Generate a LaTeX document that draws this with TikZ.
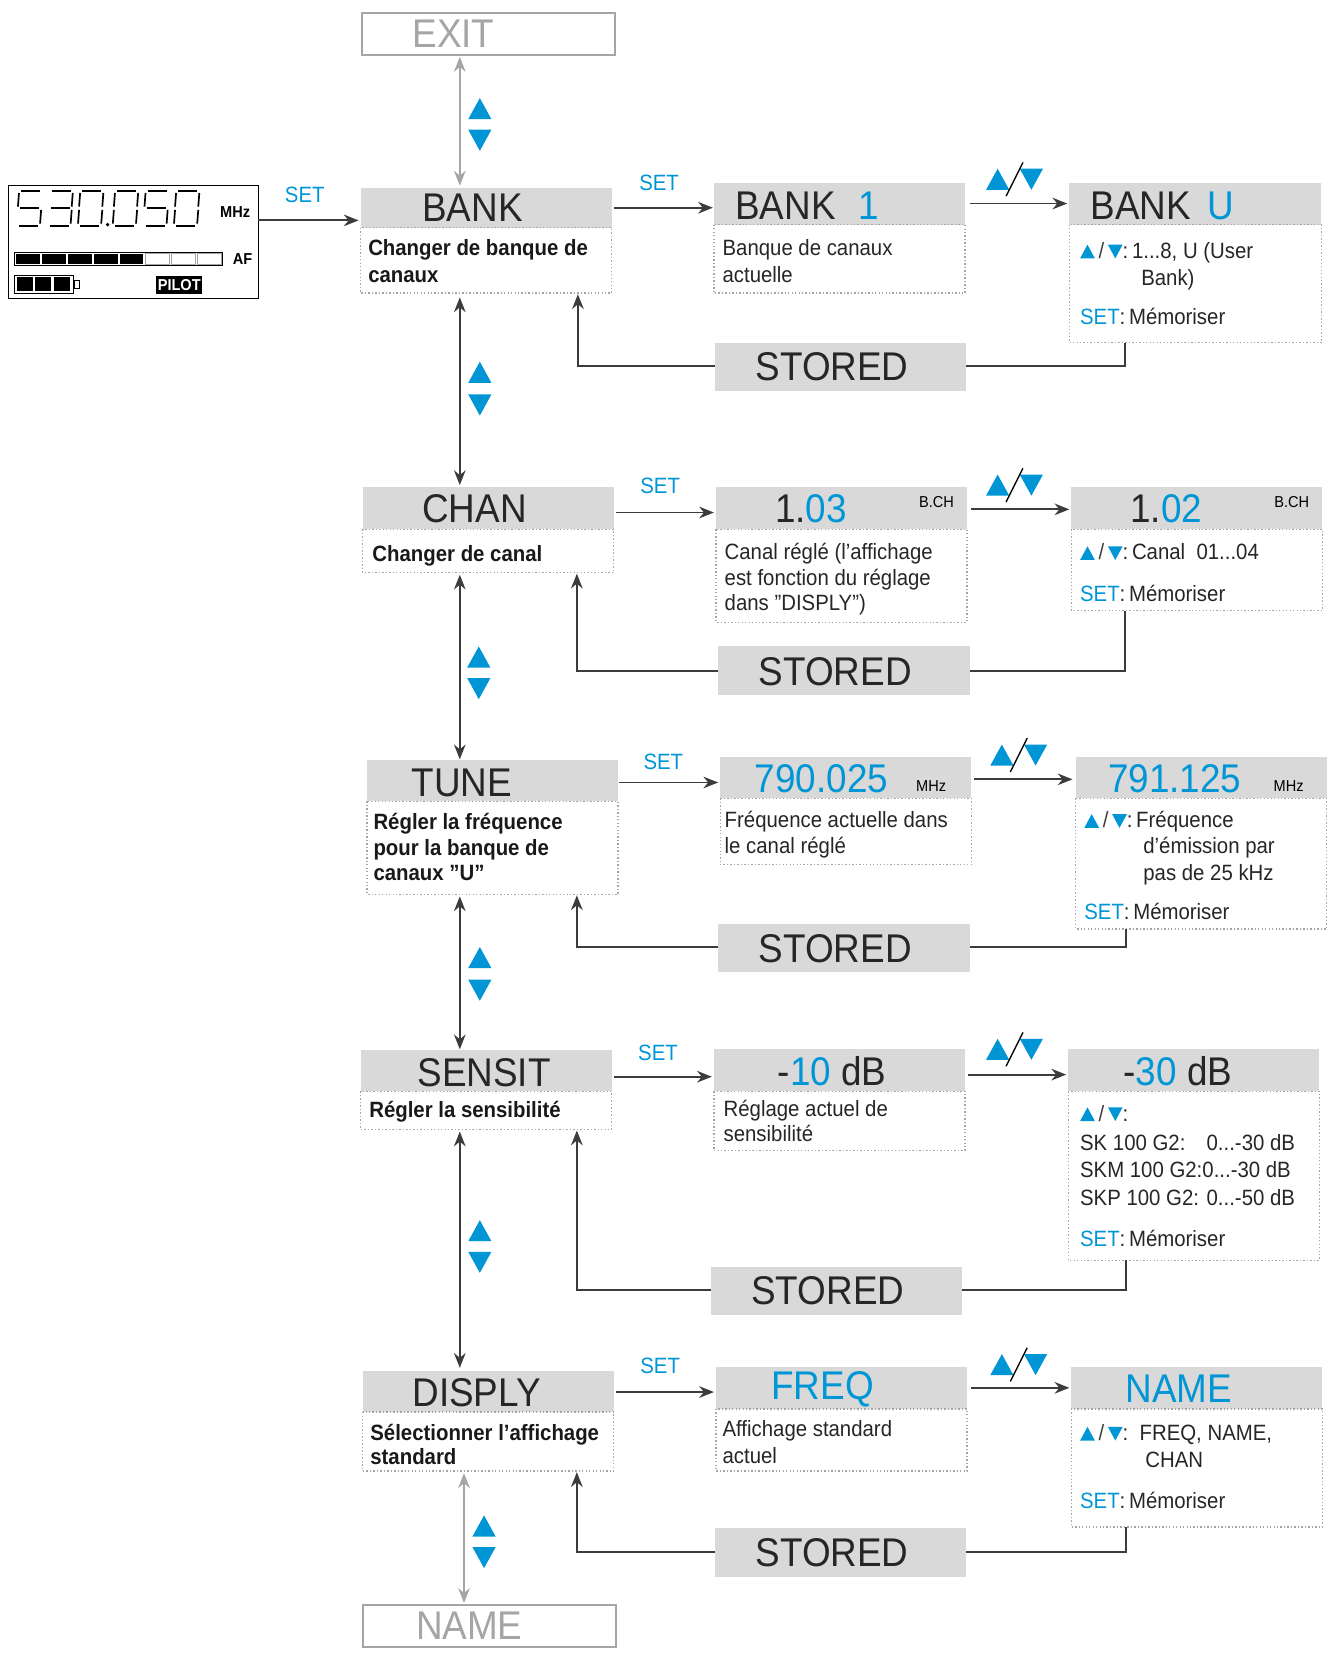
\documentclass[tikz,border=0pt]{standalone}
\usepackage{fontspec}
\setmainfont{Liberation Sans}[FakeStretch=0.92]
\usetikzlibrary{arrows.meta}
\definecolor{blu}{RGB}{0,150,214}
\definecolor{hdr}{RGB}{217,217,217}
\definecolor{dk}{RGB}{60,60,60}
\definecolor{lg}{RGB}{165,165,165}
\newcommand\Hd{\fontsize{38}{40}\selectfont}
\newcommand\Bd{\fontsize{21}{24}\selectfont}
\newcommand\Sm{\fontsize{15}{16}\selectfont}
\newcommand\B[1]{\textcolor{blu}{#1}}
\newcommand\Q{\symbol{34}}
\newcommand\A{\symbol{39}}
\newcommand\UD{\B{\tikz[baseline=0pt]{\fill (0,0)--(14pt,0)--(7pt,13pt)--cycle;}}\,\textcolor{dk}{/}\,\B{\tikz[baseline=0pt]{\fill (0,13pt)--(14pt,13pt)--(7pt,0)--cycle;}}:}
\newcommand\MSet{\B{SET}:\,Mémoriser}
\newcommand\Bx[6]{%
 \fill[hdr] (#2,#3) rectangle (#6,#4);
 \draw[lg,dotted,line width=1.3pt] (#2,#4) rectangle (#6,#5);
 \coordinate (#1-w) at (#2,{(#3+#4)/2});
 \coordinate (#1-e) at (#6,{(#3+#4)/2});
}
\newcommand\Tri[3]{%
 \fill[blu] ({#1-11},{#2+10*#3}) -- ({#1+11},{#2+10*#3}) -- (#1,{#2-10*#3}) -- cycle;}
\newcommand\UDlab[2]{%
 \Tri{#1-16}{#2}{1}\Tri{#1+16}{#2}{-1}
 \draw[black,line width=1.3pt] ({#1-8},{#2+16}) -- ({#1+8},{#2-16});}
\newcommand\Sg[1]{\ifcase#1\or\draw (4,1)--(22,1);\or\draw (24,3)--(23,16);\or\draw (23,19)--(22,32);\or\draw (2,34)--(20,34);\or\draw (1,19)--(0,32);\or\draw (2,3)--(1,16);\or\draw (3,17.5)--(21,17.5);\fi}
\begin{document}
\begin{tikzpicture}[x=1pt,y=-1pt,
 ar/.style={dk,line width=1.8pt,-{Stealth[length=14pt,width=11pt]}},
 dar/.style={dk,line width=1.8pt,{Stealth[length=14pt,width=11pt]}-{Stealth[length=14pt,width=11pt]}},
 gar/.style={lg,line width=1.8pt,{Stealth[length=14pt,width=11pt]}-{Stealth[length=14pt,width=11pt]}},
 ln/.style={dk,line width=1.8pt},
 ht/.style={font=\Hd,text=black!85,inner sep=0pt,anchor=center},
 bt/.style={font=\Bd,text=black!85,inner sep=0pt,anchor=base west},
 bb/.style={font=\Bd\bfseries,text=black!90,inner sep=0pt,anchor=base west},
 st/.style={font=\Bd,text=blu,inner sep=0pt,anchor=center}]
\useasboundingbox (0,0) rectangle (1270,1576);
% EXIT / NAME
\draw[lg,line width=1.8pt] (343,12) rectangle (583,52);
\node[ht,text=lg] (exit) at (430,32) {EXIT};
\coordinate (exitb) at (436,54);
\draw[lg,line width=1.8pt] (344,1522) rectangle (584,1562);
\node[ht,text=lg] (nameb) at (445,1542) {NAME};
\coordinate (namet) at (440,1520);
% LCD
\draw[black,line width=1.3pt] (8,176) rectangle (245,283);
\coordinate (lcd-e) at (245,209);
\foreach \d/\segs in {0/{1,6,7,3,4},1/{1,2,7,3,4},2/{1,2,3,4,5,6},3/{1,2,3,4,5,6},4/{1,6,7,3,4},5/{1,2,3,4,5,6}}{
 \pgfmathtruncatemacro\xo{16+\d*29+(\d>2?4:0)}
 \begin{scope}[shift={(\xo,180)},black,line width=1.6pt]
 \foreach \s in \segs {\Sg{\s}}
 \end{scope}}
\fill (102,213) circle (1.8pt);
\node[font=\Sm\bfseries,inner sep=0pt] (mhz) at (223,201) {MHz};
\draw[black,line width=0.8pt] (14,239) rectangle (211,252);
\foreach \i in {0,...,7}{\ifnum\i<5 \fill[black] ({15.5+\i*24.5},240.5) rectangle ({38+\i*24.5},250.5);\else\draw[lg] ({15.5+\i*24.5},240.5) rectangle ({38+\i*24.5},250.5);\fi}
\node[font=\Sm\bfseries,inner sep=0pt] (af) at (230,246) {AF};
\draw[black,line width=1pt] (14,261) rectangle (70,278);
\foreach \i in {0,1,2}{\fill ({16+\i*17.5},263) rectangle ({31+\i*17.5},276);}
\draw (70,266) rectangle (75,273);
\fill[black] (148,262) rectangle (192,279);
\node[font=\Sm\bfseries,text=white,inner sep=0pt] (pilot) at (170,270.5) {PILOT};
% ===== row BANK
\Bx{bank}{342}{178}{216}{278}{580}
\node[ht] at (448,197) {BANK};
\node[bb] at (349,242) {Changer de banque de};
\node[bb] at (349,268) {canaux};
\Bx{bk1}{677}{174}{213}{278}{915}
\node[ht,anchor=west] at (697,195) {BANK\hspace{22pt}\B{1}};
\node[bt] at (685,242) {Banque de canaux};
\node[bt] at (685,268) {actuelle};
\Bx{bku}{1014}{174}{213}{325}{1253}
\node[ht,anchor=west] at (1034,195) {BANK\hspace{16pt}\B{U}};
\node[bt] at (1024,245) {\UD\,1...8, U (User};
\node[bt] at (1082,271) {Bank)};
\node[bt] at (1024,308) {\MSet};
\fill[hdr] (678,325) rectangle (916,371); \node[ht] (st1) at (789,348) {STORED};
\node[st] at (289,185) {SET}; \node[st] at (625,173) {SET};
\draw[ar] (lcd-e) -- (340,209);
\draw[ar] (582,197) -- (676,197);
\UDlab{962}{170}
\draw[ar] (920,193) -- (1012,193);
\draw[ln] (1067,325) |- (916,347);
\draw[ar] (678,347) -| (548,279);
\draw[gar] (exitb) -- (436,176);
\Tri{455}{103}{1}\Tri{455}{133}{-1}
% ===== row CHAN
\Bx{chan}{344}{462}{502}{543}{582}
\node[ht] at (450,482) {CHAN};
\node[bb] at (353,532) {Changer de canal};
\Bx{c103}{679}{462}{502}{590}{917}
\node[ht] at (769,482) {1.\B{03}};
\node[font=\Sm,inner sep=0pt] at (888,476) {B.CH};
\node[bt] at (687,531) {Canal réglé (l\A affichage};
\node[bt] at (687,555) {est fonction du réglage};
\node[bt] at (687,579) {dans \Q DISPLY\Q)};
\Bx{c102}{1016}{462}{502}{579}{1254}
\node[ht] at (1106,482) {1.\B{02}};
\node[font=\Sm,inner sep=0pt] at (1225,476) {B.CH};
\node[bt] at (1024,531) {\UD\,Canal\ \ 01...04};
\node[bt] at (1024,570) {\MSet};
\fill[hdr] (681,613) rectangle (920,659); \node[ht] (st2) at (792,637) {STORED};
\node[st] at (626,461) {SET};
\draw[ar] (584,486) -- (677,486);
\UDlab{962}{460}
\draw[ar] (921,483) -- (1014,483);
\draw[ln] (1067,579) |- (920,636);
\draw[ar] (681,636) -| (547,544);
\draw[dar] (436,282) -- (436,460);
\Tri{455}{353}{1}\Tri{455}{384}{-1}
% ===== row TUNE
\Bx{tune}{348}{721}{760}{848}{586}
\node[ht] at (438,742) {TUNE};
\node[bb] at (354,787) {Régler la fréquence};
\node[bb] at (354,811) {pour la banque de};
\node[bb] at (354,835) {canaux \Q U\Q};
\Bx{t790}{683}{718}{757}{820}{921}
\node[ht,text=blu] at (779,738) {790.025};
\node[font=\Sm,inner sep=0pt] at (883,745) {MHz};
\node[bt] at (687,785) {Fréquence actuelle dans};
\node[bt] at (687,809) {le canal réglé};
\Bx{t791}{1020}{718}{757}{881}{1258}
\node[ht,text=blu] at (1114,738) {791.125};
\node[font=\Sm,inner sep=0pt] at (1222,745) {MHz};
\node[bt] at (1028,785) {\UD\,Fréquence};
\node[bt] at (1084,809) {d\A émission par};
\node[bt] at (1084,835) {pas de 25 kHz};
\node[bt] at (1028,872) {\MSet};
\fill[hdr] (681,876) rectangle (920,922); \node[ht] (st3) at (792,900) {STORED};
\node[st] at (629,722) {SET};
\draw[ar] (587,742) -- (681,742);
\UDlab{966}{716}
\draw[ar] (924,739) -- (1017,739);
\draw[ln] (1068,881) |- (920,898);
\draw[ar] (681,898) -| (547,849);
\draw[dar] (436,545) -- (436,720);
\Tri{454}{623}{1}\Tri{454}{653}{-1}
% ===== row SENSIT
\Bx{sens}{342}{996}{1035}{1071}{580}
\node[ht] at (459,1017) {SENSIT};
\node[bb] at (350,1060) {Régler la sensibilité};
\Bx{s10}{677}{995}{1035}{1091}{915}
\node[ht] at (789,1016) {-\B{10} dB};
\node[bt] at (686,1059) {Réglage actuel de};
\node[bt] at (686,1082) {sensibilité};
\Bx{s30}{1013}{995}{1035}{1195}{1251}
\node[ht] at (1117,1016) {-\B{30} dB};
\node[bt] at (1024,1063) {\UD};
\node[bt] at (1024,1091) {SK 100 G2:}; \node[bt] at (1144,1091) {0...-30 dB};
\node[bt] at (1024,1117) {SKM 100 G2:}; \node[bt] at (1140,1117) {0...-30 dB};
\node[bt] at (1024,1143) {SKP 100 G2:}; \node[bt] at (1144,1143) {0...-50 dB};
\node[bt] at (1024,1182) {\MSet};
\fill[hdr] (674,1201) rectangle (912,1247); \node[ht] (st4) at (785,1224) {STORED};
\node[st] at (624,998) {SET};
\draw[ar] (582,1021) -- (675,1021);
\UDlab{962}{995}
\draw[ar] (918,1019) -- (1011,1019);
\draw[ln] (1068,1195) |- (912,1223);
\draw[ar] (674,1223) -| (547,1072);
\draw[dar] (436,850) -- (436,995);
\Tri{455}{908}{1}\Tri{455}{939}{-1}
% ===== row DISPLY
\Bx{disp}{344}{1300}{1339}{1395}{582}
\node[ht] at (452,1321) {DISPLY};
\node[bb] at (351,1366) {Sélectionner l\A affichage};
\node[bb] at (351,1389) {standard};
\Bx{freq}{679}{1296}{1336}{1395}{917}
\node[ht,text=blu] at (780,1317) {FREQ};
\node[bt] at (685,1362) {Affichage standard};
\node[bt] at (685,1388) {actuel};
\Bx{name}{1016}{1296}{1336}{1448}{1254}
\node[ht,text=blu] at (1118,1317) {NAME};
\node[bt] at (1024,1366) {\UD\ \ FREQ, NAME,};
\node[bt] at (1086,1392) {CHAN};
\node[bt] at (1024,1430) {\MSet};
\fill[hdr] (678,1449) rectangle (916,1495); \node[ht] (st5) at (789,1472) {STORED};
\node[st] at (626,1295) {SET};
\draw[ar] (584,1320) -- (677,1320);
\UDlab{966}{1294}
\draw[ar] (921,1316) -- (1014,1316);
\draw[ln] (1068,1448) |- (916,1472);
\draw[ar] (678,1472) -| (547,1396);
\draw[dar] (436,1073) -- (436,1297);
\Tri{455}{1167}{1}\Tri{455}{1197}{-1}
\draw[gar] (440,1397) -- (namet);
\Tri{459}{1447}{1}\Tri{459}{1477}{-1}
\end{tikzpicture}
\end{document}
